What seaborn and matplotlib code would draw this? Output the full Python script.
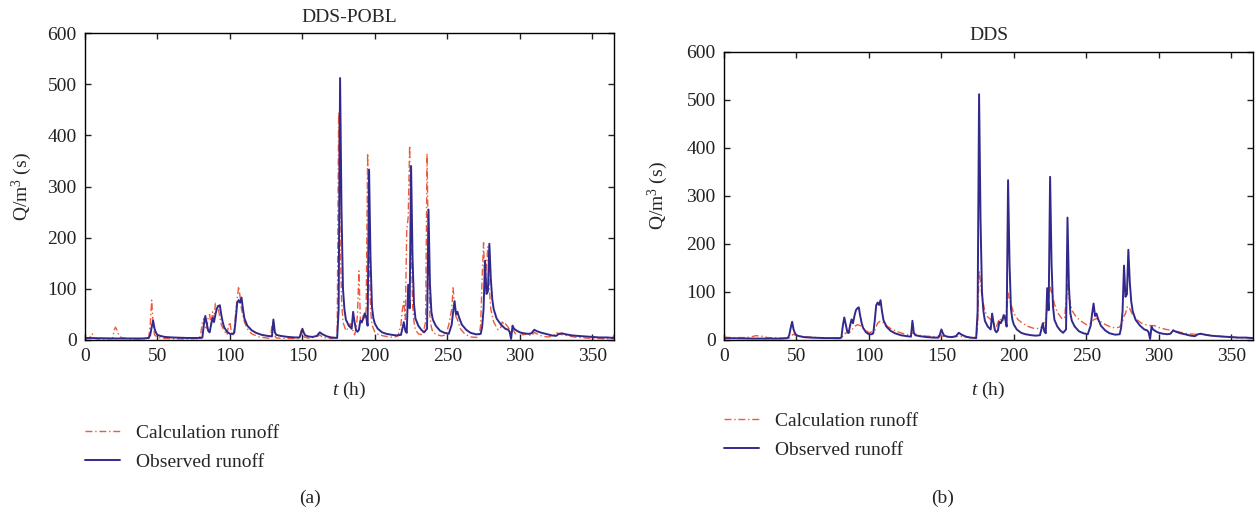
### Runoff comparison: DDS-POBL vs DDS

import numpy as np
import pandas as pd
import seaborn as sns
import matplotlib.pyplot as plt


### Data

# observed runoff (same in both panels)
t_obs = [0, 10, 20, 30, 40, 44, 45, 46, 47, 48, 49, 50, 52, 55, 60, 70,
         80, 81, 82, 83, 84, 85, 86, 87, 88, 89, 90, 91, 92, 93, 94, 95,
         96, 98, 100, 102, 103, 104, 105, 106, 107, 108, 109, 110, 112, 115,
         118, 122, 126, 129, 130, 131, 132, 135, 140, 145, 148, 149, 150, 151,
         152, 154, 157, 160, 162, 164, 167, 170, 174, 175, 176, 177, 178, 179,
         180, 182, 184, 185, 186, 187, 188, 189, 190, 191, 192, 193, 194, 195,
         196, 197, 198, 199, 200, 202, 205, 208, 210, 212, 215, 218, 220, 221,
         222, 223, 224, 225, 226, 227, 228, 230, 232, 234, 236, 237, 238, 239,
         240, 242, 245, 248, 251, 253, 254, 255, 256, 257, 258, 260, 263, 266,
         270, 273, 274, 275, 276, 277, 278, 279, 280, 281, 282, 284, 287, 290,
         292, 293, 294, 295, 296, 298, 300, 303, 306, 308, 310, 312, 315, 318,
         322, 325, 327, 329, 332, 336, 340, 345, 350, 355, 360, 365]
q_obs = [4, 3.5, 3, 3, 3, 4, 10, 25, 38, 22, 14, 10, 8, 6, 5, 4,
         4, 5, 30, 47, 32, 18, 15, 30, 43, 35, 50, 62, 66, 68, 50, 35,
         25, 16, 12, 12, 14, 40, 72, 78, 73, 83, 60, 42, 28, 19,
         14, 10, 8, 7, 40, 15, 10, 8, 6, 5, 5, 12, 22, 14,
         9, 7, 6, 8, 15, 11, 7, 5, 4, 60, 512, 250, 100, 60,
         40, 28, 22, 55, 35, 20, 16, 20, 38, 35, 42, 52, 45, 28,
         333, 160, 65, 42, 32, 22, 15, 12, 11, 10, 9, 10, 35, 18,
         14, 108, 62, 340, 160, 70, 42, 28, 20, 15, 22, 255, 110, 55,
         40, 28, 18, 14, 12, 30, 55, 76, 50, 55, 45, 30, 20, 14,
         11, 12, 25, 60, 155, 90, 95, 188, 120, 80, 60, 42, 30, 22,
         20, 16, 2, 28, 22, 18, 15, 13, 12, 13, 20, 17, 14, 12,
         9, 8, 12, 13, 11, 9, 8, 7, 6, 5, 5, 4]

# calculated runoff, DDS-POBL
t_pobl = [0, 3, 4, 5, 6, 8, 15, 19, 20, 21, 22, 23, 25, 30, 40, 44, 45, 46,
          47, 48, 50, 55, 70, 79, 80, 81, 82, 83, 84, 85, 86, 87, 88, 89, 90,
          91, 92, 93, 94, 96, 98, 99, 100, 101, 102, 103, 104, 105, 106, 107,
          108, 110, 112, 115, 120, 125, 128, 129, 130, 131, 132, 140, 148, 149,
          150, 151, 155, 161, 162, 164, 170, 174, 175, 176, 177, 178, 180, 182,
          183, 184, 185, 186, 187, 188, 189, 190, 191, 192, 193, 194, 195, 196,
          197, 198, 200, 203, 206, 210, 213, 216, 218, 219, 220, 221, 222, 223,
          224, 225, 226, 227, 228, 230, 233, 235, 236, 237, 238, 239, 240, 243,
          246, 249, 251, 253, 254, 255, 256, 257, 259, 262, 266, 270, 272, 273,
          274, 275, 276, 277, 278, 279, 280, 282, 285, 287, 288, 289, 290, 292,
          294, 295, 297, 300, 302, 305, 308, 310, 313, 316, 320, 324, 325, 327,
          330, 335, 340, 345, 350, 355, 360, 364, 365]
q_pobl = [2, 3, 8, 12, 4, 2, 2, 3, 18, 25, 20, 12, 5, 2, 2, 5, 30, 78,
          30, 10, 5, 3, 2, 3, 15, 35, 42, 25, 20, 45, 50, 30, 55, 40, 72,
          70, 60, 45, 30, 18, 10, 28, 35, 15, 8, 20, 55, 80, 105, 85,
          60, 35, 22, 12, 6, 4, 3, 30, 38, 8, 4, 3, 3, 18,
          20, 6, 3, 8, 10, 5, 3, 5, 445, 200, 80, 35, 18, 25,
          32, 22, 18, 10, 20, 50, 135, 40, 30, 48, 40, 60, 365, 180,
          60, 30, 15, 10, 8, 6, 5, 8, 30, 60, 75, 40, 215, 240,
          380, 210, 70, 35, 20, 12, 10, 35, 365, 150, 45, 25, 15, 10,
          8, 10, 30, 60, 102, 65, 45, 40, 22, 12, 6, 5, 8, 30,
          120, 190, 100, 150, 182, 100, 60, 35, 20, 25, 38, 30, 32, 25,
          15, 22, 12, 18, 10, 12, 8, 15, 10, 7, 6, 10, 15, 12,
          10, 7, 5, 4, 3, 3, 2, 3, 10]

# calculated runoff, DDS
t_dds = [0, 5, 10, 15, 18, 22, 26, 30, 40, 45, 47, 48, 50, 55, 60, 70, 78,
         80, 82, 84, 86, 88, 90, 92, 94, 96, 98, 100, 102, 104, 106, 108, 110,
         113, 116, 120, 125, 128, 130, 132, 136, 140, 146, 150, 152, 156, 160,
         163, 166, 170, 174, 175, 176, 177, 178, 180, 182, 185, 187, 188, 190,
         192, 194, 195, 196, 197, 198, 200, 203, 206, 210, 214, 218, 220, 222,
         223, 224, 225, 226, 228, 230, 233, 235, 236, 237, 238, 240, 243, 246,
         250, 253, 255, 257, 259, 262, 266, 270, 273, 275, 276, 277, 278, 279,
         280, 282, 285, 288, 291, 294, 297, 300, 305, 310, 315, 320, 325, 330,
         335, 340, 345, 350, 355, 360, 365]
q_dds = [6, 5, 5, 5, 6, 9, 8, 5, 4, 4, 10, 12, 9, 7, 6, 4, 3,
         3, 8, 15, 14, 20, 28, 32, 30, 25, 20, 15, 17, 20, 35, 40, 36,
         28, 22, 17, 12, 10, 15, 12, 9, 8, 7, 9, 7, 6, 7,
         8, 6, 5, 6, 30, 145, 120, 90, 60, 48, 40, 32, 28, 45,
         38, 50, 60, 98, 85, 75, 55, 42, 35, 28, 24, 24, 30, 45,
         65, 85, 110, 100, 75, 58, 45, 45, 80, 115, 90, 62, 48, 40,
         32, 35, 42, 45, 40, 34, 28, 25, 27, 38, 50, 55, 68, 70,
         65, 52, 42, 35, 32, 30, 30, 26, 22, 20, 16, 13, 12, 12,
         10, 8, 7, 6, 5, 5, 4]

panels = [('DDS-POBL', t_pobl, q_pobl, '(a)'),
          ('DDS', t_dds, q_dds, '(b)')]


### Style
sns.set_theme(style='ticks', rc={
    'xtick.direction': 'in', 'ytick.direction': 'in',
    'xtick.top': True, 'ytick.right': True,
    'xtick.major.size': 4, 'ytick.major.size': 4,
    'xtick.major.pad': 6, 'ytick.major.pad': 6,
    'axes.edgecolor': 'black', 'axes.linewidth': 1.0,
})
plt.rcParams['font.family'] = ['Liberation Serif', 'DejaVu Serif']
plt.rcParams['mathtext.fontset'] = 'custom'
plt.rcParams['mathtext.rm'] = 'Liberation Serif'
plt.rcParams['mathtext.it'] = 'Liberation Serif:italic'

calc_color = '#ee5a3c'
obs_color = '#32298c'
fs = 14

fig = plt.figure(figsize=(12.56, 5.12), dpi=100)

# axes positions [left, bottom, width, height] in figure fraction
ax_pos = [[85 / 1256, 1 - 340 / 512, 529 / 1256, 307 / 512],
          [724 / 1256, 1 - 340 / 512, 529 / 1256, 288 / 512]]
title_pad = [8, 9]
legend_top = [424, 412]
legend_left = [85, 724]
panel_x = [310, 943]

for i, (name, t_calc, q_calc, tag) in enumerate(panels):
    ax = fig.add_axes(ax_pos[i])

    sns.lineplot(x=t_calc, y=q_calc, ax=ax, color=calc_color, lw=1.0,
                 linestyle=(0, (5, 2, 1, 2)), label='Calculation runoff')
    sns.lineplot(x=t_obs, y=q_obs, ax=ax, color=obs_color, lw=1.4,
                 label='Observed runoff')

    ax.set_xlim(0, 365)
    ax.set_ylim(0, 600)
    ax.set_xticks(np.arange(0, 351, 50))
    ax.set_yticks(np.arange(0, 601, 100))
    ax.tick_params(labelsize=fs, colors='#222222', length=4, width=1)
    for s in ax.spines.values():
        s.set_visible(True)

    ax.set_title(name, fontsize=fs, pad=title_pad[i])
    ax.set_xlabel('$t$ (h)', fontsize=fs)
    ax.set_ylabel('Q/m$^3$ (s)', fontsize=fs)
    ax.xaxis.set_label_coords(0.5, -0.13 if i == 0 else -0.139)
    ax.yaxis.set_label_coords(-0.096 if i == 0 else -0.102, 0.5)

    ax.legend(loc='upper left', frameon=False, fontsize=fs,
              bbox_to_anchor=(legend_left[i] / 1256, 1 - legend_top[i] / 512),
              bbox_transform=fig.transFigure, borderpad=0, borderaxespad=0,
              handlelength=1.8, handletextpad=0.8, labelspacing=0.6)

    fig.text(panel_x[i] / 1256, 1 - 498 / 512, tag, fontsize=fs,
             ha='center', va='center')

plt.savefig('out.png', dpi=100)
plt.close()
